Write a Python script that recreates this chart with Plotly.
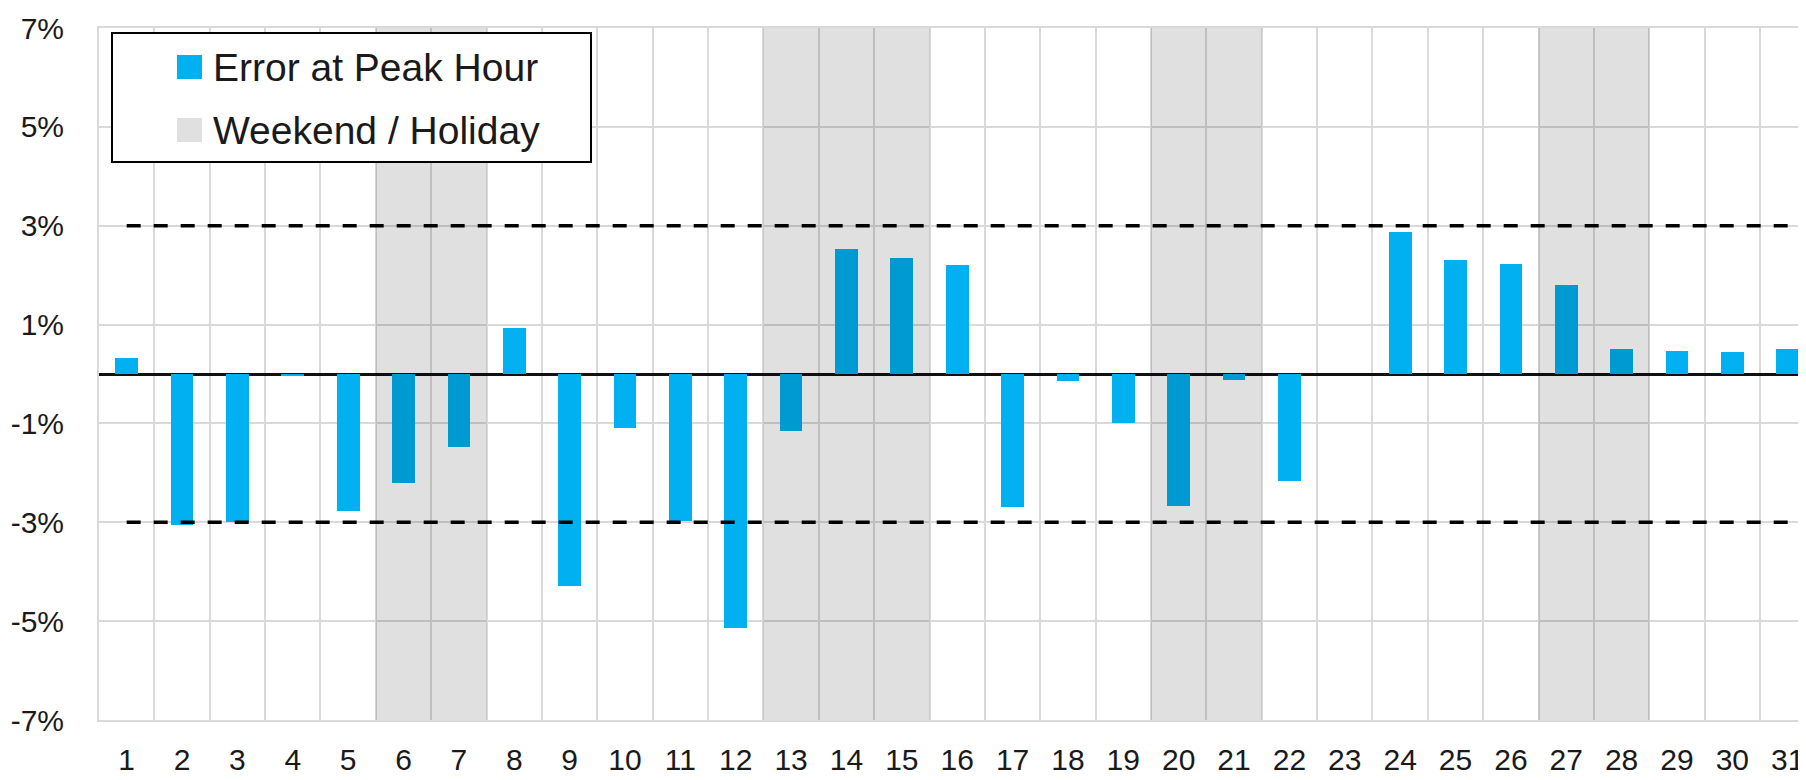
import plotly.graph_objects as go

days = list(range(1, 32))
errors = [0.32, -3.05, -3.0, -0.05, -2.77, -2.21, -1.47, 0.94, -4.29, -1.09,
          -2.98, -5.13, -1.16, 2.53, 2.35, 2.21, -2.70, -0.14, -0.99, -2.67,
          -0.12, -2.16, 0.0, 2.87, 2.31, 2.23, 1.80, 0.51, 0.47, 0.45, 0.50]
weekend_days = [6, 7, 13, 14, 15, 20, 21, 27, 28]
upper_limit = 3
lower_limit = -3
y_ticks = [-7, -5, -3, -1, 1, 3, 5, 7]
y_tick_text = [f"{v}%" for v in y_ticks]

FONT = "Liberation Sans, Arial, sans-serif"
BLUE = "#00B0F0"
GRID = "#D9D9D9"
TXT = "#1a1a1a"

# the page body adds an 8px offset; size the figure so it ends at the window edge
OFF = 8
W, H = 1806 - OFF, 780 - OFF
ML, MR, MT, MB = 99 - OFF, 0, 28 - OFF, 780 - 720

fig = go.Figure()

fig.add_trace(go.Bar(x=days, y=errors, width=0.41, marker=dict(color=BLUE, line=dict(width=0)),
                     name="Error at Peak Hour", showlegend=False))

for lim in (upper_limit, lower_limit):
    fig.add_trace(go.Scatter(x=[days[0], days[-1]], y=[lim, lim], mode="lines",
                             line=dict(color="black", width=3.5, dash="14px,13px"),
                             showlegend=False, hoverinfo="skip"))

shapes = []
for d in weekend_days:
    shapes.append(dict(type="rect", xref="x", yref="y", x0=d - 0.5, x1=d + 0.5,
                       y0=y_ticks[0], y1=y_ticks[-1], fillcolor="rgba(0,0,0,0.12)",
                       line=dict(width=0), layer="above"))

pw = W - ML - MR
ph = H - MT - MB
def px_x(v):  # screen px -> paper
    return (v - OFF - ML) / pw
def px_y(v):
    return 1 - (v - OFF - MT) / ph

# legend box
shapes.append(dict(type="rect", xref="paper", yref="paper", x0=px_x(112), x1=px_x(591),
                   y0=px_y(162), y1=px_y(33), fillcolor="white",
                   line=dict(color="black", width=2), layer="above"))
shapes.append(dict(type="rect", xref="paper", yref="paper", x0=px_x(177), x1=px_x(202),
                   y0=px_y(79), y1=px_y(55), fillcolor=BLUE, line=dict(width=0), layer="above"))
shapes.append(dict(type="rect", xref="paper", yref="paper", x0=px_x(177), x1=px_x(202),
                   y0=px_y(142), y1=px_y(118), fillcolor="#E0E0E0", line=dict(width=0), layer="above"))

annotations = [
    dict(x=px_x(211), y=px_y(67), xref="paper", yref="paper", text="Error at Peak Hour",
         showarrow=False, xanchor="left", yanchor="middle", font=dict(family=FONT, size=39, color=TXT)),
    dict(x=px_x(211), y=px_y(130), xref="paper", yref="paper", text="Weekend / Holiday",
         showarrow=False, xanchor="left", yanchor="middle", font=dict(family=FONT, size=39, color=TXT)),
]

fig.update_layout(
    width=W, height=H,
    margin=dict(l=ML, r=MR, t=MT, b=MB, autoexpand=False),
    paper_bgcolor="white", plot_bgcolor="white",
    shapes=shapes, annotations=annotations,
    showlegend=False, bargap=0,
    font=dict(family=FONT, size=30, color=TXT),
)
fig.update_xaxes(
    range=[0.5, 31.33], tickmode="array", tickvals=days, ticktext=[str(d) for d in days],
    showgrid=False, zeroline=False, ticks="", ticklabelstandoff=12, ticklabeloverflow="allow",
    automargin=False,
    showline=True, linecolor=GRID, linewidth=2, mirror=True,
    minor=dict(tick0=0.5, dtick=1, showgrid=True, gridcolor=GRID, gridwidth=2, ticks=""),
    tickfont=dict(family=FONT, size=30, color=TXT),
)
fig.update_yaxes(
    range=[-7, 7], tickmode="array", tickvals=y_ticks, ticktext=y_tick_text,
    showgrid=True, gridcolor=GRID, gridwidth=2, automargin=False,
    zeroline=True, zerolinecolor="#111", zerolinewidth=2.5,
    showline=True, linecolor=GRID, linewidth=2, mirror=False,
    ticks="", ticklabelstandoff=27,
    tickfont=dict(family=FONT, size=30, color=TXT),
)

fig.write_html("out.html")
